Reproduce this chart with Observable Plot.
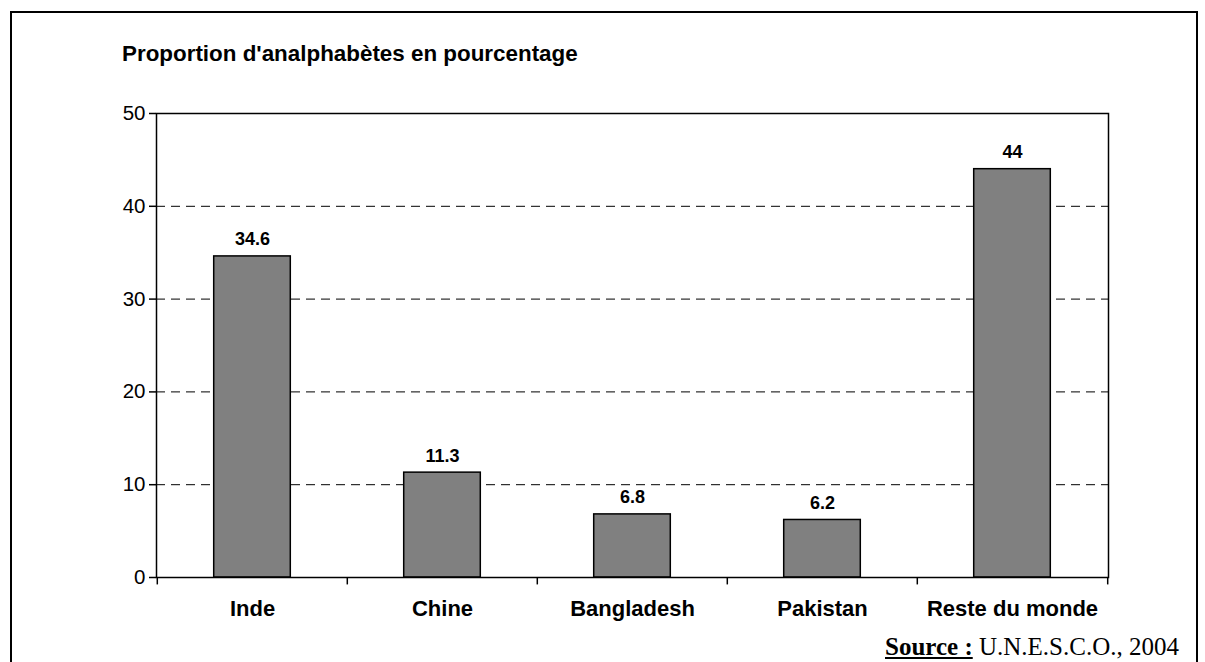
<!DOCTYPE html>
<html>
<head>
<meta charset="utf-8">
<script src="https://cdn.jsdelivr.net/npm/d3@7"></script>
<script src="https://cdn.jsdelivr.net/npm/@observablehq/plot@0.6"></script>
<style>
  html, body { margin: 0; padding: 0; background: #fff; }
  #wrap { position: relative; width: 1205px; height: 662px; overflow: hidden; background: #fff; }
  #border { position: absolute; left: 10px; top: 11px; width: 1188px; height: 700px; border: 2px solid #000; box-sizing: border-box; }
  #chart { position: absolute; left: 0; top: 0; }
  #title { position: absolute; left: 122px; top: 43px; font: bold 22.4px "Liberation Sans", Arial, sans-serif; line-height: 1; white-space: nowrap; }
  #source { position: absolute; left: 885px; top: 634px; font: 25px "Liberation Serif", "Times New Roman", serif; line-height: 1; white-space: nowrap; }
  #source b { text-decoration: underline; }
</style>
</head>
<body>
<div id="wrap">
  <div id="border"></div>
  <div id="chart"></div>
  <div id="title">Proportion d'analphabètes en pourcentage</div>
  <div id="source"><b>Source :</b> U.N.E.S.C.O., 2004</div>
</div>
<script>
const categories = ["Inde", "Chine", "Bangladesh", "Pakistan", "Reste du monde"];
const values = [34.6, 11.3, 6.8, 6.2, 44];
const yTicks = [0, 10, 20, 30, 40, 50];
const gridLines = [10, 20, 30, 40];

const data = categories.map((c, i) => ({category: c, value: values[i]}));

const W = 1205, H = 662;
const mL = 156, mR = 97, mT = 113, mB = 85;
const step = (W - mL - mR) / categories.length;
const barW = 77;
const inset = (step - barW) / 2;

const plot = Plot.plot({
  width: W,
  height: H,
  marginLeft: mL,
  marginRight: mR,
  marginTop: mT,
  marginBottom: mB,
  style: {fontFamily: "'Liberation Sans', Arial, sans-serif", color: "#000", background: "transparent"},
  x: {domain: categories, padding: 0},
  y: {domain: [0, 50]},
  marks: [
    Plot.ruleY(gridLines, {stroke: "#000", strokeWidth: 1, strokeDasharray: "9,6"}),
    Plot.barY(data, {x: "category", y: "value", fill: "#808080", stroke: "#000", strokeWidth: 1.5, insetLeft: inset, insetRight: inset}),
    Plot.frame({stroke: "#000", strokeWidth: 1.5}),
    Plot.ruleX(categories, {x: d => d, y1: 0, y2: -0.8, dx: -step / 2, stroke: "#000", strokeWidth: 1.5}),
    Plot.ruleX([categories[categories.length - 1]], {x: d => d, y1: 0, y2: -0.8, dx: step / 2, stroke: "#000", strokeWidth: 1.5}),
    Plot.axisY({ticks: yTicks, tickSize: 7, tickPadding: 4, fontSize: 20.5, label: null, tickFormat: d => String(d), stroke: "#000", strokeWidth: 1.5}),
    Plot.axisX({tickSize: 0, tickPadding: 23, fontSize: 22, fontWeight: "bold", label: null}),
    Plot.text(data, {x: "category", y: "value", text: d => String(d.value), dy: -11, lineAnchor: "bottom", fontSize: 18, fontWeight: "bold", fill: "#000"})
  ]
});
document.getElementById("chart").appendChild(plot);
</script>
</body>
</html>
